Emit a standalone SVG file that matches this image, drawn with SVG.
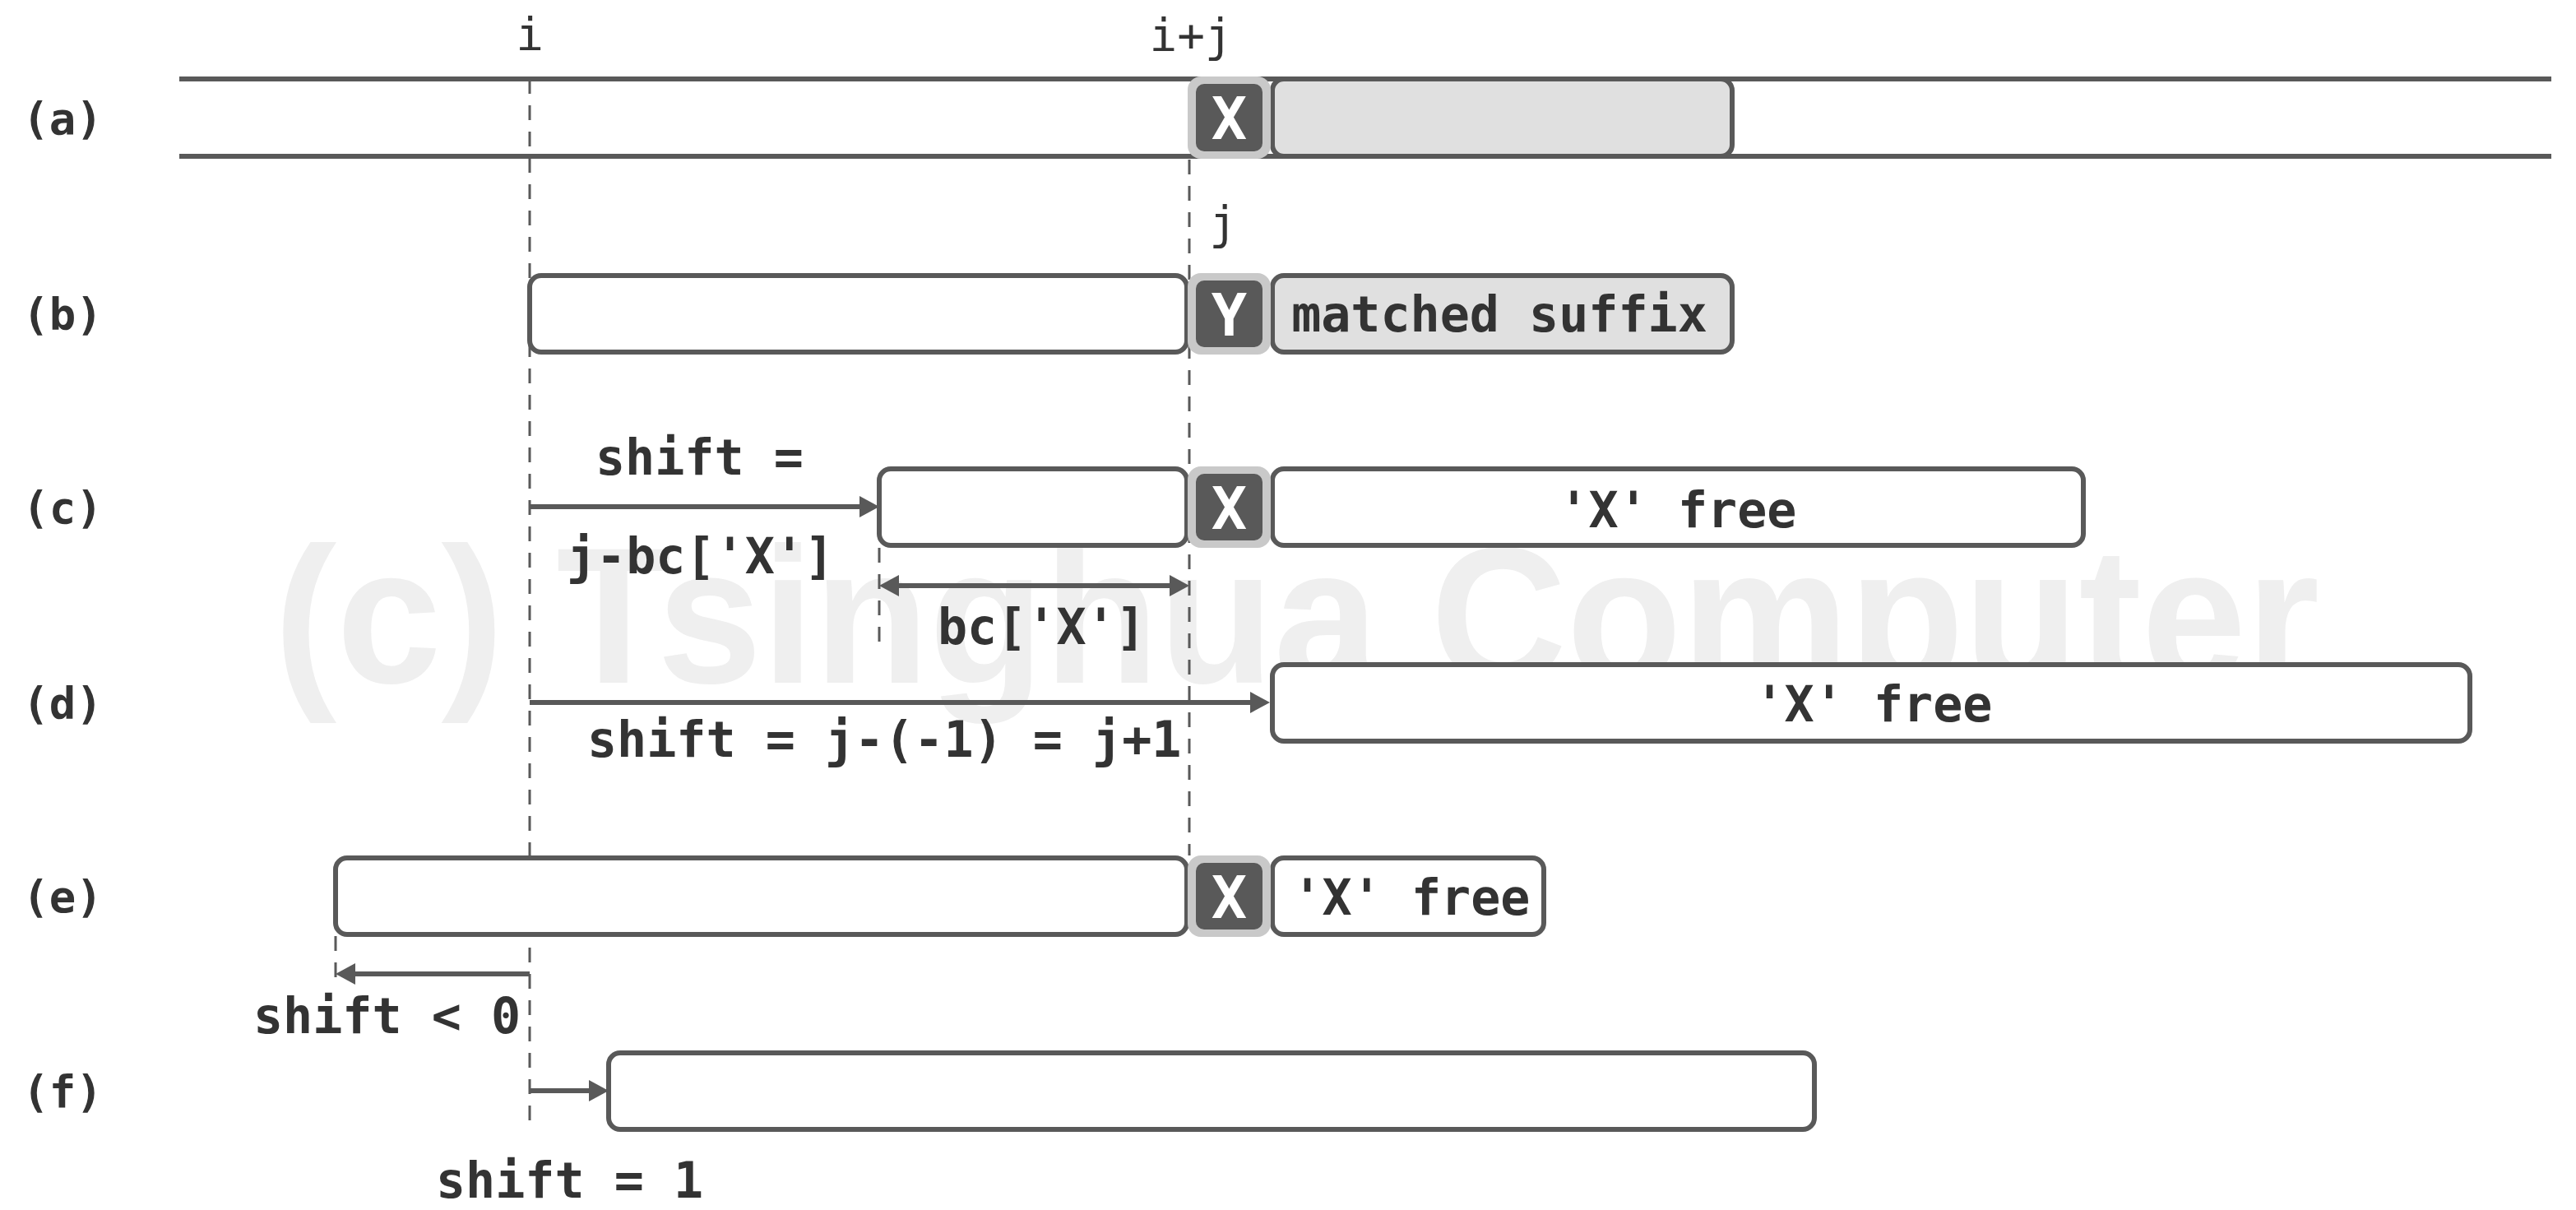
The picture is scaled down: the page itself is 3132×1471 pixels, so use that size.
<svg xmlns="http://www.w3.org/2000/svg" width="3132" height="1471" viewBox="0 0 3132 1471">
<defs>
<style>
.wm{font-family:"Liberation Sans",Arial,sans-serif;font-weight:bold;font-size:236px;fill:#efefef}
.box{fill:#fff;stroke:#595959;stroke-width:6}
.gbox{fill:#e0e0e0;stroke:#595959;stroke-width:6}
.co{fill:#c9c9c9}
.ci{fill:#595959}
.ct{font-family:"DejaVu Sans Mono","Liberation Mono",monospace;font-weight:bold;font-size:72px;fill:#fff;text-anchor:middle}
.t{font-family:"DejaVu Sans Mono","Liberation Mono",monospace;font-weight:bold;font-size:60px;fill:#333}
.m{text-anchor:middle}
.lbl{font-family:"DejaVu Sans Mono","Liberation Mono",monospace;font-weight:bold;font-size:54px;fill:#333;text-anchor:middle}
.idx{font-family:"DejaVu Sans Mono","Liberation Mono",monospace;font-size:56px;fill:#333;text-anchor:middle}
.dash{stroke:#595959;stroke-width:3;stroke-dasharray:18 14;fill:none}
.arr{stroke:#595959;stroke-width:6;fill:none}
.rail{stroke:#595959;stroke-width:6}
</style>
<marker id="ah" markerUnits="userSpaceOnUse" markerWidth="24" markerHeight="26" refX="14" refY="13" orient="auto-start-reverse"><path d="M0,0 L24,13 L0,26 Z" fill="#595959"/></marker>
</defs>
<rect width="3132" height="1471" fill="#fff"/>
<text class="wm" x="333" y="830" textLength="2487" lengthAdjust="spacingAndGlyphs">(c) Tsinghua Computer</text>

<g id="guides">
<line class="dash" x1="644" y1="96" x2="644" y2="1365"/>
<line class="dash" x1="1446" y1="194" x2="1446" y2="1040"/>
<line class="dash" x1="1069" y1="666" x2="1069" y2="790"/>
<line class="dash" x1="408" y1="1138" x2="408" y2="1200"/>
</g>

<g id="labels">
<text class="idx" x="644" y="61">i</text>
<text class="idx" x="1448" y="62">i+j</text>
<text class="idx" x="1487" y="290">j</text>
<text class="lbl" x="76" y="163">(a)</text>
<text class="lbl" x="76" y="401">(b)</text>
<text class="lbl" x="76" y="636">(c)</text>
<text class="lbl" x="76" y="874">(d)</text>
<text class="lbl" x="76" y="1109">(e)</text>
<text class="lbl" x="76" y="1346">(f)</text>
</g>

<g id="row-a">
<line class="rail" x1="218" y1="96" x2="3102" y2="96"/>
<line class="rail" x1="218" y1="190" x2="3102" y2="190"/>
<rect class="gbox" x="1547" y="96" width="559" height="94" rx="14"/>
<rect class="co" x="1444" y="93" width="101" height="100" rx="16"/>
<rect class="ci" x="1454" y="102" width="81" height="82" rx="10"/>
<text class="ct" x="1494.5" y="169">X</text>
</g>

<g id="row-b">
<rect class="box" x="644" y="335" width="799" height="93" rx="14"/>
<rect class="gbox" x="1547" y="335" width="559" height="93" rx="14"/>
<rect class="co" x="1444" y="332" width="101" height="99" rx="16"/>
<rect class="ci" x="1454" y="341" width="81" height="81" rx="10"/>
<text class="ct" x="1494.5" y="408">Y</text>
<text class="t m" x="1823" y="403">matched suffix</text>
</g>

<g id="row-c">
<rect class="box" x="1069" y="570" width="374" height="93" rx="14"/>
<rect class="box" x="1547" y="570" width="986" height="93" rx="14"/>
<rect class="co" x="1444" y="567" width="101" height="99" rx="16"/>
<rect class="ci" x="1454" y="576" width="81" height="81" rx="10"/>
<text class="ct" x="1494.5" y="643">X</text>
<text class="t m" x="2040" y="641">'X' free</text>
<text class="t" x="724" y="577">shift =</text>
<text class="t" x="689" y="697">j-bc['X']</text>
<text class="t" x="1140" y="783">bc['X']</text>
</g>

<g id="row-d">
<rect class="box" x="1547" y="808" width="1456" height="93" rx="14"/>
<text class="t m" x="2278" y="877">'X' free</text>
<text class="t" x="714" y="920">shift = j-(-1) = j+1</text>
</g>

<g id="row-e">
<rect class="box" x="408" y="1043" width="1035" height="93" rx="14"/>
<rect class="box" x="1547" y="1043" width="330" height="93" rx="14"/>
<rect class="co" x="1444" y="1040" width="101" height="99" rx="16"/>
<rect class="ci" x="1454" y="1049" width="81" height="81" rx="10"/>
<text class="ct" x="1494.5" y="1116">X</text>
<text class="t m" x="1716" y="1112">'X' free</text>
<text class="t" x="308" y="1256">shift &lt; 0</text>
</g>

<g id="row-f">
<rect class="box" x="740" y="1280" width="1466" height="93" rx="14"/>
<text class="t" x="530" y="1456">shift = 1</text>
</g>

<g id="connectors">
<line class="arr" x1="644" y1="616" x2="1059" y2="616" marker-end="url(#ah)"/>
<line class="arr" x1="1079" y1="712" x2="1436" y2="712" marker-start="url(#ah)" marker-end="url(#ah)"/>
<line class="arr" x1="644" y1="854" x2="1534" y2="854" marker-end="url(#ah)"/>
<line class="arr" x1="644" y1="1184" x2="418" y2="1184" marker-end="url(#ah)"/>
<line class="arr" x1="644" y1="1326" x2="730" y2="1326" marker-end="url(#ah)"/>
</g>
</svg>
